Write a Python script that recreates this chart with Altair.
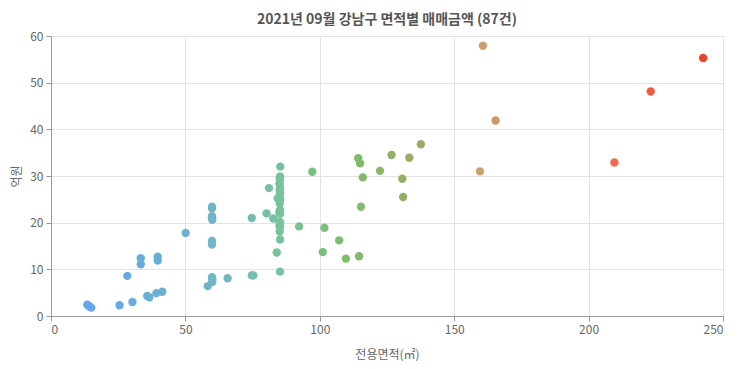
import altair as alt
import pandas as pd

area = [13.5, 14.2, 15.0, 25.5, 30.3, 28.4, 33.4, 33.4, 35.8, 36.6, 39.2, 41.4, 39.7, 39.7, 50.1,
        59.9, 59.9, 59.9, 59.9, 60.0, 59.9, 59.9, 59.9, 59.9, 60.0, 60.0, 58.3, 65.7,
        74.7, 75.3, 74.7, 80.2, 81.1, 82.7, 84.0,
        85.3, 85.2, 85.1, 85.2, 85.0, 85.2, 85.1, 85.2, 85.1, 84.3, 85.2, 85.1, 85.2, 85.0, 85.2, 85.1, 85.2, 85.0, 85.2, 85.1, 85.2, 85.2,
        85.2, 85.1, 85.2, 85.2, 85.1,
        92.3, 97.2, 101.7, 107.2, 101.1, 109.7, 114.6,
        114.3, 115.0, 116.0, 122.4, 126.7, 133.3, 137.6, 130.7, 131.0, 115.3,
        160.7, 165.4, 159.6, 209.6, 223.1, 242.6, 59.9, 85.2]
price = [2.4, 2.1, 1.8, 2.3, 3.0, 8.6, 12.4, 11.1, 4.3, 4.0, 4.9, 5.2, 12.7, 11.9, 17.8,
         23.4, 23.1, 21.4, 21.0, 20.6, 16.1, 15.7, 15.3, 8.3, 7.8, 7.3, 6.4, 8.1,
         8.7, 8.7, 21.0, 22.0, 27.4, 20.9, 13.6,
         32.0, 29.9, 29.5, 29.1, 28.4, 27.6, 27.0, 26.3, 25.6, 25.2, 24.9, 24.1, 22.7, 22.3, 22.0, 20.2, 19.9, 19.4, 19.1, 18.1, 16.4, 9.5,
         25.0, 22.0, 20.0, 29.5, 27.0,
         19.2, 30.9, 18.9, 16.2, 13.7, 12.3, 12.8,
         33.8, 32.7, 29.7, 31.1, 34.5, 33.9, 36.8, 29.4, 25.5, 23.4,
         57.9, 41.9, 31.0, 32.9, 48.1, 55.3, 21.0, 22.0]

color_domain = [13, 60, 85, 110, 135, 160, 210, 243]
color_range = ['#66a6ec', '#70b6c6', '#78c29c', '#7dbe6c', '#9caa64', '#c8a06a', '#f26a4f', '#e8432f']

df = pd.DataFrame({"area": area, "price": price})

FONT = "Noto Sans CJK KR"

chart = alt.Chart(df).mark_circle(size=70, opacity=1).encode(
    x=alt.X("area:Q", title="전용면적(㎡)",
            scale=alt.Scale(domain=[0, 250], nice=False),
            axis=alt.Axis(values=[0, 50, 100, 150, 200, 250], titlePadding=14)),
    y=alt.Y("price:Q", title="억원",
            scale=alt.Scale(domain=[0, 60], nice=False),
            axis=alt.Axis(values=[0, 10, 20, 30, 40, 50, 60], titlePadding=6)),
    color=alt.Color("area:Q", legend=None,
                    scale=alt.Scale(domain=color_domain, range=color_range, interpolate="rgb")),
).properties(
    width=672, height=280,
    title=alt.TitleParams("2021년 09월 강남구 면적별 매매금액 (87건)", font=FONT, fontSize=14,
                          fontWeight="bold", color="#555555", offset=3, anchor="middle"),
    autosize=alt.AutoSizeParams(type="none"),
    padding={"left": 43, "top": 28, "right": 7, "bottom": 45},
).configure_view(stroke="#dddddd").configure_axis(
    labelFont=FONT, titleFont=FONT, labelFontSize=12, titleFontSize=12,
    labelColor="#666666", titleColor="#666666", titleFontWeight="normal",
    gridColor="#e3e3e3", domainColor="#999999", tickColor="#999999", tickSize=5,
    labelPadding=3,
)

chart.save("out.html", embed_options={"renderer": "svg", "actions": False})
